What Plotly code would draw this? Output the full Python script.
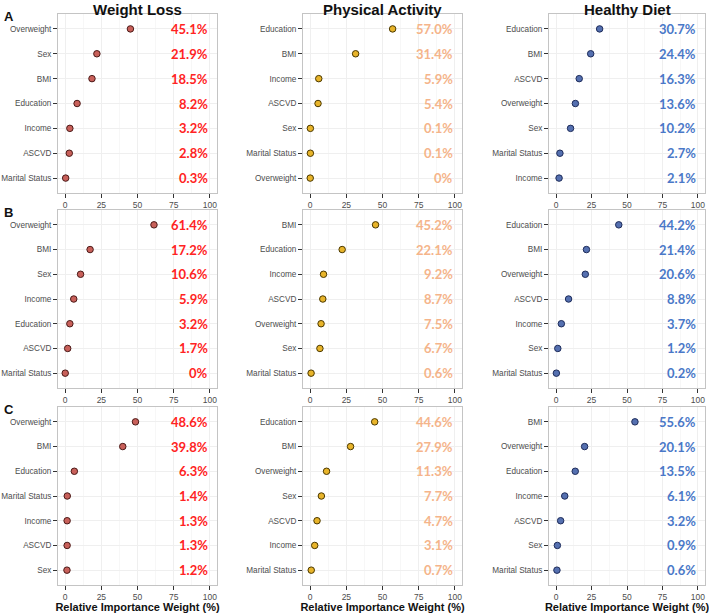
import plotly.graph_objects as go

W, H = 709, 613

# ---------------- data ----------------
titles = ["Weight Loss", "Physical Activity", "Healthy Diet"]
row_labels = ["A", "B", "C"]

wl_A_cats = ["Overweight", "Sex", "BMI", "Education", "Income", "ASCVD", "Marital Status"]
wl_A_vals = [45.1, 21.9, 18.5, 8.2, 3.2, 2.8, 0.3]
wl_A_txt = ["45.1%", "21.9%", "18.5%", "8.2%", "3.2%", "2.8%", "0.3%"]

pa_A_cats = ["Education", "BMI", "Income", "ASCVD", "Sex", "Marital Status", "Overweight"]
pa_A_vals = [57.0, 31.4, 5.9, 5.4, 0.1, 0.1, 0.0]
pa_A_txt = ["57.0%", "31.4%", "5.9%", "5.4%", "0.1%", "0.1%", "0%"]

hd_A_cats = ["Education", "BMI", "ASCVD", "Overweight", "Sex", "Marital Status", "Income"]
hd_A_vals = [30.7, 24.4, 16.3, 13.6, 10.2, 2.7, 2.1]
hd_A_txt = ["30.7%", "24.4%", "16.3%", "13.6%", "10.2%", "2.7%", "2.1%"]

wl_B_cats = ["Overweight", "BMI", "Sex", "Income", "Education", "ASCVD", "Marital Status"]
wl_B_vals = [61.4, 17.2, 10.6, 5.9, 3.2, 1.7, 0.0]
wl_B_txt = ["61.4%", "17.2%", "10.6%", "5.9%", "3.2%", "1.7%", "0%"]

pa_B_cats = ["BMI", "Education", "Income", "ASCVD", "Overweight", "Sex", "Marital Status"]
pa_B_vals = [45.2, 22.1, 9.2, 8.7, 7.5, 6.7, 0.6]
pa_B_txt = ["45.2%", "22.1%", "9.2%", "8.7%", "7.5%", "6.7%", "0.6%"]

hd_B_cats = ["Education", "BMI", "Overweight", "ASCVD", "Income", "Sex", "Marital Status"]
hd_B_vals = [44.2, 21.4, 20.6, 8.8, 3.7, 1.2, 0.2]
hd_B_txt = ["44.2%", "21.4%", "20.6%", "8.8%", "3.7%", "1.2%", "0.2%"]

wl_C_cats = ["Overweight", "BMI", "Education", "Marital Status", "Income", "ASCVD", "Sex"]
wl_C_vals = [48.6, 39.8, 6.3, 1.4, 1.3, 1.3, 1.2]
wl_C_txt = ["48.6%", "39.8%", "6.3%", "1.4%", "1.3%", "1.3%", "1.2%"]

pa_C_cats = ["Education", "BMI", "Overweight", "Sex", "ASCVD", "Income", "Marital Status"]
pa_C_vals = [44.6, 27.9, 11.3, 7.7, 4.7, 3.1, 0.7]
pa_C_txt = ["44.6%", "27.9%", "11.3%", "7.7%", "4.7%", "3.1%", "0.7%"]

hd_C_cats = ["BMI", "Overweight", "Education", "Income", "ASCVD", "Sex", "Marital Status"]
hd_C_vals = [55.6, 20.1, 13.5, 6.1, 3.2, 0.9, 0.6]
hd_C_txt = ["55.6%", "20.1%", "13.5%", "6.1%", "3.2%", "0.9%", "0.6%"]

x_ticks = [0, 25, 50, 75, 100]
x_title = "Relative Importance Weight (%)"

panels = [
    [(wl_A_cats, wl_A_vals, wl_A_txt), (pa_A_cats, pa_A_vals, pa_A_txt), (hd_A_cats, hd_A_vals, hd_A_txt)],
    [(wl_B_cats, wl_B_vals, wl_B_txt), (pa_B_cats, pa_B_vals, pa_B_txt), (hd_B_cats, hd_B_vals, hd_B_txt)],
    [(wl_C_cats, wl_C_vals, wl_C_txt), (pa_C_cats, pa_C_vals, pa_C_txt), (hd_C_cats, hd_C_vals, hd_C_txt)],
]

# ---------------- style ----------------
marker_fill = ["#C8605A", "#E8B42A", "#5570B0"]
marker_line = ["#4A1A18", "#4A3800", "#1E2C5A"]
text_color = ["#FF2323", "#F5B48A", "#4A78C8"]

col_px = [(58, 217), (303, 462), (549, 705)]
row_px = [(14, 193), (210, 388), (407, 585)]

fig = go.Figure()
annotations = []

for r in range(3):
    for c in range(3):
        idx = r * 3 + c + 1
        sfx = "" if idx == 1 else str(idx)
        cats, vals, txt = panels[r][c]
        fig.add_trace(go.Scatter(
            x=vals, y=cats, mode="markers",
            marker=dict(size=6.5, color=marker_fill[c],
                        line=dict(color=marker_line[c], width=1)),
            xaxis="x" + sfx, yaxis="y" + sfx, showlegend=False,
            hoverinfo="none"))
        x0, x1 = col_px[c]
        y0, y1 = row_px[r]
        xd = [x0 / W, x1 / W]
        yd = [1 - y1 / H, 1 - y0 / H]
        fig.layout["xaxis" + sfx] = dict(
            domain=xd, anchor="y" + sfx, range=[-5, 105],
            tickvals=x_ticks, ticks="outside", ticklen=4, tickcolor="#333333",
            tickfont=dict(family="Liberation Sans, Arial", size=8.5, color="#4D4D4D"),
            showgrid=True, gridcolor="#EFEFEF", gridwidth=1,
            minor=dict(showgrid=True, gridcolor="#F7F7F7", dtick=12.5, tick0=0),
            showline=True, mirror=True, linecolor="#C4C4C4", linewidth=1,
            zeroline=False, fixedrange=True,
            title=dict(text="<b>" + x_title + "</b>" if r == 2 else "",
                       font=dict(family="Liberation Sans, Arial", size=11, color="#111111"),
                       standoff=2),
        )
        fig.layout["yaxis" + sfx] = dict(
            domain=yd, anchor="x" + sfx, type="category",
            categoryorder="array", categoryarray=cats, range=[6.6, -0.6],
            ticks="outside", ticklen=4, tickcolor="#333333",
            tickfont=dict(family="Liberation Sans, Arial", size=8.2, color="#4D4D4D"),
            showgrid=True, gridcolor="#EFEFEF",
            showline=True, mirror=True, linecolor="#C4C4C4", linewidth=1,
            zeroline=False, fixedrange=True,
        )
        for cat, t in zip(cats, txt):
            annotations.append(dict(
                x=100, y=cat, xref="x" + sfx, yref="y" + sfx,
                text="<b>" + t + "</b>", showarrow=False, xanchor="right",
                font=dict(family="Lato, Open Sans", size=13, color=text_color[c])))

for c in range(3):
    x0, x1 = col_px[c]
    annotations.append(dict(
        x=(x0 + x1) / 2 / W, y=1 + 1 / H, xref="paper", yref="paper",
        text="<b>" + titles[c] + "</b>", showarrow=False,
        xanchor="center", yanchor="top",
        font=dict(family="Liberation Sans, Arial", size=15, color="#111111")))

for r in range(3):
    y0, _ = row_px[r]
    annotations.append(dict(
        x=2 / W, y=1 - (y0 - 7) / H, xref="paper", yref="paper",
        text="<b>" + row_labels[r] + "</b>", showarrow=False,
        xanchor="left", yanchor="top",
        font=dict(family="Liberation Sans, Arial", size=13, color="#111111")))

fig.update_layout(
    width=W, height=H, margin=dict(l=0, r=0, t=0, b=0),
    paper_bgcolor="white", plot_bgcolor="white",
    annotations=annotations, showlegend=False, hovermode=False,
)

fig.write_html("out.html", config={"displayModeBar": False, "staticPlot": True},
               post_script="document.body.style.margin='0';")
